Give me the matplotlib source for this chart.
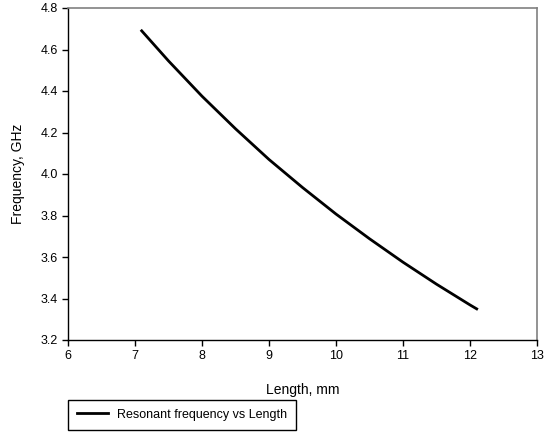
import matplotlib.pyplot as plt

plt.rcParams['font.family'] = ['Liberation Sans', 'DejaVu Sans']

# resonator length (mm) and resonant frequency (GHz)
length_mm = [7.1, 7.5, 8.0, 8.5, 9.0, 9.5, 10.0, 10.5, 11.0, 11.5, 12.0, 12.1]
freq_ghz = [4.69, 4.545, 4.375, 4.218, 4.07, 3.935, 3.807, 3.688, 3.575, 3.469, 3.369, 3.35]

x_ticks = [6, 7, 8, 9, 10, 11, 12, 13]
y_ticks = [3.2, 3.4, 3.6, 3.8, 4.0, 4.2, 4.4, 4.6, 4.8]

fig = plt.figure(figsize=(5.49, 4.32), dpi=100)
ax = fig.add_axes([68 / 549, 1 - 340 / 432, (537 - 68) / 549, (340 - 8) / 432])

line, = ax.plot(length_mm, freq_ghz, color='black', linewidth=2.0,
                label='Resonant frequency vs Length')

ax.set_xlim(6, 13)
ax.set_ylim(3.2, 4.8)
ax.set_xticks(x_ticks)
ax.set_yticks(y_ticks)
ax.set_yticklabels(['%.1f' % v for v in y_ticks])
ax.tick_params(direction='out', length=4, width=1, labelsize=9, color='black')

for side in ('top', 'right'):
    ax.spines[side].set_color('#808080')
    ax.spines[side].set_linewidth(1.2)
for side in ('left', 'bottom'):
    ax.spines[side].set_color('black')
    ax.spines[side].set_linewidth(1)

ax.set_xlabel('Length, mm', fontsize=10, labelpad=15)
ax.set_ylabel('Frequency, GHz', fontsize=10, labelpad=11)

fig.legend(handles=[line], loc='upper left',
           bbox_to_anchor=(68 / 549, 1 - 400 / 432), borderaxespad=0,
           fancybox=False, edgecolor='black', framealpha=1, fontsize=9,
           handlelength=2.5, borderpad=0.7, handletextpad=0.7)

plt.savefig('out.png')
